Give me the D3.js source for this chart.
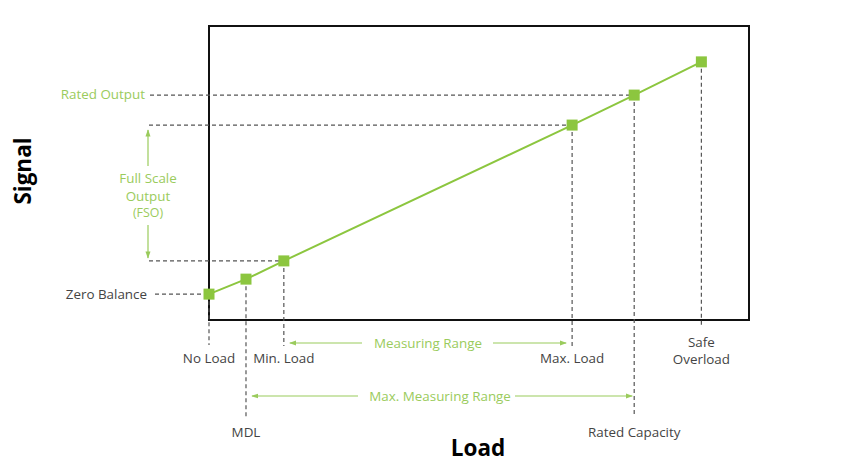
<!DOCTYPE html>
<html><head><meta charset="utf-8">
<script src="https://cdn.jsdelivr.net/npm/d3@7"></script>
<style>body{margin:0;background:#fff}svg{display:block}text{font-family:"Open Sans","Noto Sans",sans-serif}</style>
</head><body><svg id="c" width="854" height="464"></svg>
<script>
const categories = ["No Load","MDL","Min. Load","Max. Load","Rated Capacity","Safe Overload"];
const loadValues = [0, 8.7, 17.6, 85.4, 100, 115.8];
const signalValues = [8.8, 13.9, 20.1, 66.3, 76.5, 87.8];
const signalLabels = ["Zero Balance","Rated Output"];

const svg = d3.select("#c");
const L=209, R=749, T=26, B=320;
const x = d3.scaleLinear().domain([0,127]).range([L,R]);
const y = d3.scaleLinear().domain([0,100]).range([B,T]);
const green="#8cc63f", gtext="#9acb5c", gray="#444", dash="#555";
const pts = categories.map((c,i)=>({c, x:x(loadValues[i]), y:y(signalValues[i])}));

const defs = svg.append("defs");
defs.append("marker").attr("id","ah").attr("viewBox","0 0 10 10").attr("refX",9).attr("refY",5)
 .attr("markerWidth",6).attr("markerHeight",6).attr("orient","auto-start-reverse")
 .append("path").attr("d","M0,1.5L10,5L0,8.5Z").attr("fill",gtext);

// box
svg.append("rect").attr("x",L).attr("y",T).attr("width",R-L).attr("height",B-T)
 .attr("fill","none").attr("stroke","#111").attr("stroke-width",2);

const dl = (x1,y1,x2,y2)=>svg.append("line").attr("x1",x1).attr("y1",y1).attr("x2",x2).attr("y2",y2)
 .attr("stroke",dash).attr("stroke-width",1.2).attr("stroke-dasharray","4,3");

// horizontal dashed guides
dl(155, pts[0].y, pts[0].x, pts[0].y);
dl(150, pts[4].y, pts[4].x, pts[4].y);
dl(149, pts[3].y, pts[3].x, pts[3].y);
dl(149, pts[2].y, pts[2].x, pts[2].y);

// vertical dashed guides
const vEnd = [345, 418, 346, 346, 417, 326];
pts.forEach((p,i)=>dl(p.x, p.y, p.x, vEnd[i]));

// line + markers
svg.append("path").datum(pts).attr("d", d3.line().x(d=>d.x).y(d=>d.y))
 .attr("fill","none").attr("stroke",green).attr("stroke-width",2);
svg.selectAll("rect.m").data(pts).join("rect").attr("class","m")
 .attr("x",d=>d.x-5.5).attr("y",d=>d.y-5.5).attr("width",11).attr("height",11).attr("fill",green);

const txt=(t,xx,yy,opt={})=>svg.append("text").attr("x",xx).attr("y",yy).text(t)
 .attr("font-size",opt.size||13.4).attr("fill",opt.fill||gray).attr("text-anchor",opt.anchor||"middle")
 .attr("font-weight",opt.weight||"normal").attr("dominant-baseline","middle");

// y labels
txt(signalLabels[0], 147, pts[0].y+1, {anchor:"end"});
txt(signalLabels[1], 145, pts[4].y, {anchor:"end", fill:gtext});

// FSO
const ga=(x1,y1,x2,y2)=>svg.append("line").attr("x1",x1).attr("y1",y1).attr("x2",x2).attr("y2",y2)
 .attr("stroke",gtext).attr("stroke-width",1.2).attr("marker-end","url(#ah)");
ga(148,166,148,pts[3].y+5);
ga(148,225,148,pts[2].y-3);
txt("Full Scale",148,179,{fill:gtext});
txt("Output",148,197,{fill:gtext});
txt("(FSO)",148,214,{fill:gtext,size:12.4});

// x labels
txt(categories[0], pts[0].x, 359);
txt(categories[1], pts[1].x, 433);
txt(categories[2], pts[2].x, 359);
txt(categories[3], pts[3].x, 359);
txt(categories[4], pts[4].x, 433);
txt("Safe", pts[5].x, 343);
txt("Overload", pts[5].x, 360);

// ranges
ga(362,343,pts[2].x+6,343);
ga(493,343,pts[3].x-6,343);
txt("Measuring Range",(pts[2].x+pts[3].x)/2,344,{fill:gtext});
ga(358,396,pts[1].x+6,396);
ga(515,396,pts[4].x-2,396);
txt("Max. Measuring Range",(pts[1].x+pts[4].x)/2,397,{fill:gtext});

// axis titles
txt("Load",478,450,{size:22.5,weight:"bold",fill:"#000"});
svg.append("text").attr("transform","translate(25,171) rotate(-90)").text("Signal")
 .attr("font-size",22.5).attr("font-weight","bold").attr("text-anchor","middle").attr("dominant-baseline","middle");
</script></body></html>
